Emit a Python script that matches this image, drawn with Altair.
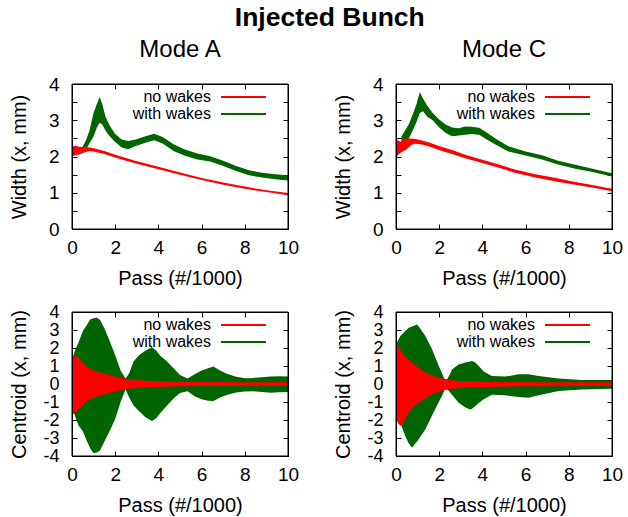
import altair as alt
import pandas as pd

FONT = "Liberation Sans"
RED = "#ff0000"
GREEN = "#006400"

TITLE = "Injected Bunch"
PANEL_TITLES = ["Mode A", "Mode C"]
X_TITLE = "Pass (#/1000)"
Y_TITLE_W = "Width (x, mm)"
Y_TITLE_C = "Centroid (x, mm)"
LEGEND_LABELS = ["no wakes", "with wakes"]

X_DOMAIN = [0, 10]
W_DOMAIN = [0, 4]
C_DOMAIN = [-4, 4]
X_LABELS = [0, 2, 4, 6, 8, 10]
W_LABELS = [0, 1, 2, 3, 4]
W_TICKS = [0, 0.5, 1, 1.5, 2, 2.5, 3, 3.5, 4]
C_LABELS = [-4, -3, -2, -1, 0, 1, 2, 3, 4]

# ---- Mode A, width ----
A_W_RED_X = [0, 0.1, 0.2, 0.3, 0.45, 0.6, 0.8, 1.0, 1.5, 2.0, 2.5, 3.0, 4.0, 5.0, 6.0, 7.0, 8.0, 9.0, 10.0]
A_W_RED_LO = [2.00, 2.02, 2.05, 2.05, 2.08, 2.12, 2.15, 2.14, 2.07, 1.97, 1.88, 1.80, 1.65, 1.50, 1.35, 1.22, 1.11, 1.02, 0.93]
A_W_RED_HI = [2.30, 2.28, 2.30, 2.27, 2.27, 2.26, 2.25, 2.23, 2.15, 2.05, 1.96, 1.87, 1.72, 1.56, 1.41, 1.28, 1.17, 1.07, 0.99]

A_W_GRN_X = [0.50, 0.65, 0.80, 1.00, 1.15, 1.28, 1.40, 1.55, 1.75, 2.00, 2.30, 2.60, 2.95, 3.40, 3.80, 4.20, 4.70, 5.20, 5.80, 6.40, 7.00, 7.60, 8.20, 8.80, 9.40, 10.0]
A_W_GRN_LO = [2.12, 2.20, 2.35, 2.55, 2.80, 2.93, 2.88, 2.72, 2.55, 2.40, 2.25, 2.20, 2.29, 2.38, 2.45, 2.36, 2.15, 2.03, 1.92, 1.86, 1.74, 1.60, 1.48, 1.42, 1.37, 1.34]
A_W_GRN_HI = [2.28, 2.45, 2.70, 3.20, 3.45, 3.64, 3.45, 3.10, 2.85, 2.62, 2.47, 2.43, 2.47, 2.56, 2.63, 2.54, 2.34, 2.20, 2.08, 2.01, 1.88, 1.74, 1.62, 1.55, 1.51, 1.48]

# ---- Mode C, width ----
C_W_RED_X = [0, 0.1, 0.2, 0.35, 0.5, 0.7, 0.9, 1.2, 1.5, 1.8, 2.2, 2.6, 3.2, 4.0, 4.8, 5.5, 6.4, 7.4, 8.3, 9.2, 10]
C_W_RED_LO = [1.95, 2.05, 2.10, 2.15, 2.20, 2.32, 2.35, 2.33, 2.28, 2.22, 2.14, 2.07, 1.95, 1.82, 1.68, 1.55, 1.43, 1.31, 1.22, 1.13, 1.04]
C_W_RED_HI = [2.45, 2.45, 2.40, 2.48, 2.50, 2.50, 2.48, 2.44, 2.39, 2.33, 2.25, 2.18, 2.05, 1.91, 1.77, 1.64, 1.52, 1.41, 1.30, 1.20, 1.11]

C_W_GRN_X = [0.25, 0.4, 0.6, 0.8, 0.95, 1.1, 1.25, 1.45, 1.7, 2.0, 2.3, 2.6, 2.9, 3.2, 3.5, 3.85, 4.2, 4.6, 5.2, 6.0, 6.8, 7.5, 8.3, 9.1, 10]
C_W_GRN_LO = [2.35, 2.45, 2.50, 2.75, 2.95, 3.20, 3.25, 3.10, 3.00, 2.80, 2.65, 2.56, 2.58, 2.60, 2.62, 2.60, 2.47, 2.33, 2.14, 2.03, 1.91, 1.78, 1.66, 1.57, 1.45]
C_W_GRN_HI = [2.55, 2.70, 2.90, 3.20, 3.45, 3.78, 3.60, 3.40, 3.20, 3.02, 2.88, 2.80, 2.78, 2.83, 2.82, 2.79, 2.66, 2.50, 2.28, 2.14, 2.03, 1.88, 1.77, 1.66, 1.54]

# ---- Mode A, centroid (oscillation envelopes) ----
A_C_GRN_X = [0.0, 0.15, 0.3, 0.5, 0.7, 0.85, 1.0, 1.15, 1.3, 1.5, 1.75, 2.0, 2.25, 2.48, 2.65, 2.85, 3.1, 3.4, 3.7, 3.9, 4.1, 4.4, 4.7, 5.0, 5.35, 5.7, 6.0, 6.3, 6.55, 6.85, 7.2, 7.6, 8.0, 8.4, 8.8, 9.2, 9.6, 10.0]
A_C_GRN_HI = [1.3, 1.9, 2.3, 2.93, 3.3, 3.6, 3.65, 3.7, 3.55, 3.1, 2.37, 1.6, 0.75, 0.3, 0.6, 1.25, 1.6, 1.85, 2.05, 1.85, 1.55, 1.25, 0.88, 0.5, 0.3, 0.55, 0.75, 0.88, 0.97, 0.75, 0.55, 0.4, 0.32, 0.34, 0.38, 0.42, 0.43, 0.42]
A_C_GRN_LO = [-1.3, -1.8, -2.3, -2.62, -3.2, -3.6, -3.85, -3.8, -3.7, -3.2, -2.6, -1.95, -1.0, -0.3, -0.75, -1.2, -1.5, -1.85, -2.05, -1.9, -1.6, -1.2, -0.8, -0.5, -0.4, -0.7, -0.85, -0.93, -0.95, -0.75, -0.6, -0.47, -0.42, -0.4, -0.45, -0.48, -0.46, -0.44]

A_C_RED_X = [0, 0.1, 0.2, 0.3, 0.45, 0.65, 0.9, 1.2, 1.5, 1.9, 2.5, 3.4, 4.4, 6.0, 8.0, 10]
A_C_RED_HI = [1.6, 1.6, 1.5, 1.5, 1.25, 0.98, 0.8, 0.66, 0.58, 0.45, 0.28, 0.18, 0.14, 0.11, 0.10, 0.10]
A_C_RED_LO = [-1.65, -1.65, -1.5, -1.45, -1.25, -0.98, -0.8, -0.66, -0.58, -0.45, -0.28, -0.18, -0.14, -0.11, -0.10, -0.10]

# ---- Mode C, centroid ----
C_C_GRN_X = [0.0, 0.2, 0.43, 0.59, 0.74, 0.97, 1.05, 1.36, 1.67, 1.98, 2.13, 2.3, 2.52, 2.59, 2.9, 3.21, 3.44, 3.52, 3.67, 3.83, 4.06, 4.44, 5.06, 5.68, 6.14, 6.6, 7.53, 8.6, 10]
C_C_GRN_HI = [2.2, 2.67, 2.95, 3.13, 3.2, 3.31, 3.2, 2.67, 1.93, 1.0, 0.6, 0.11, 0.6, 0.81, 1.09, 1.19, 1.25, 1.28, 1.2, 1.0, 0.7, 0.44, 0.41, 0.54, 0.54, 0.45, 0.3, 0.22, 0.22]
C_C_GRN_LO = [-1.9, -2.15, -2.9, -3.3, -3.54, -3.2, -3.07, -2.52, -1.75, -1.0, -0.67, -0.2, -0.48, -0.6, -1.04, -1.3, -1.41, -1.38, -1.22, -1.05, -0.85, -0.6, -0.63, -0.72, -0.76, -0.63, -0.39, -0.3, -0.26]

C_C_RED_X = [0, 0.1, 0.2, 0.28, 0.45, 0.59, 0.74, 1.05, 1.36, 1.67, 1.98, 2.28, 2.9, 3.21, 4.5, 6.5, 10]
C_C_RED_HI = [2.3, 2.1, 1.95, 1.74, 1.5, 1.35, 1.19, 0.9, 0.63, 0.48, 0.35, 0.28, 0.17, 0.15, 0.11, 0.1, 0.1]
C_C_RED_LO = [-1.9, -2.2, -2.3, -2.3, -1.9, -1.59, -1.35, -1.04, -0.8, -0.57, -0.45, -0.33, -0.22, -0.2, -0.15, -0.12, -0.1]

PW = 216
H_TOP = 145
H_BOT = 144
TICK = 5


def band(x, lo, hi):
    return pd.DataFrame({"x": x, "lo": lo, "hi": hi})


def tick_axis(orient, vals):
    return alt.Axis(orient=orient, values=vals, offset=-TICK, tickSize=TICK, ticks=True,
                    labels=False, domain=False, grid=False, title=None,
                    tickColor="black", tickWidth=1)


def grid_frame_axis(orient, vals):
    # grid lines placed only at the two ends of the domain draw the plot box
    return alt.Axis(orient=orient, values=vals, ticks=False, labels=False, domain=False,
                    grid=True, gridColor="black", gridWidth=1, gridOpacity=1, title=None,
                    zindex=2)


def panel(red_df, green_df, h, ydom, ytick_vals, ylabel_vals, ytitle, ylab_size, title=None):
    xs = alt.Scale(domain=X_DOMAIN, nice=False, zero=False)
    ys = alt.Scale(domain=ydom, nice=False, zero=False)
    x_main = alt.Axis(orient="bottom", values=X_LABELS, ticks=False, domain=False,
                      grid=False, labelFlush=False, labelOverlap=False,
                      labelFontSize=19, labelPadding=9, labelFont=FONT, labelColor="black",
                      title=X_TITLE, titleFont=FONT, titleFontSize=20, titleFontWeight="normal",
                      titleX=PW / 2, titleY=49, titleBaseline="middle", titleAlign="center",
                      titleColor="black")
    y_main = alt.Axis(orient="left", values=ylabel_vals, ticks=False, domain=False,
                      grid=False, labelFlush=False, labelOverlap=False,
                      labelFontSize=ylab_size, labelPadding=13, labelFont=FONT, labelColor="black",
                      labelExpr="'' + datum.value",
                      title=ytitle, titleFont=FONT, titleFontSize=20, titleFontWeight="normal",
                      titleX=-53, titleY=h / 2, titleAngle=270, titleBaseline="middle",
                      titleAlign="center", titleColor="black")
    g = alt.Chart(green_df).mark_area(color=GREEN).encode(
        x=alt.X("x:Q", scale=xs, axis=x_main),
        y=alt.Y("lo:Q", scale=ys, axis=y_main),
        y2="hi:Q",
    )
    r = alt.Chart(red_df).mark_area(color=RED).encode(
        x=alt.X("x:Q", scale=xs, axis=tick_axis("bottom", X_LABELS)),
        y=alt.Y("lo:Q", scale=ys, axis=tick_axis("left", ytick_vals)),
        y2="hi:Q",
    )
    t = alt.Chart(red_df).mark_point(opacity=0).encode(
        x=alt.X("x:Q", scale=xs, axis=tick_axis("top", X_LABELS)),
        y=alt.Y("lo:Q", scale=ys, axis=tick_axis("right", ytick_vals)),
    )
    fg = alt.Chart(red_df).mark_point(opacity=0).encode(
        x=alt.X("x:Q", scale=xs, axis=grid_frame_axis("top", X_DOMAIN)),
        y=alt.Y("lo:Q", scale=ys, axis=grid_frame_axis("right", ydom)),
    )
    frame_df = pd.DataFrame({"x0": [X_DOMAIN[0]], "x1": [X_DOMAIN[1]],
                             "y0": [ydom[0]], "y1": [ydom[1]]})
    f = alt.Chart(frame_df).mark_rect(filled=False, stroke="#000000", strokeWidth=1).encode(
        x=alt.X("x0:Q", scale=xs, axis=None), x2="x1:Q",
        y=alt.Y("y0:Q", scale=ys, axis=None), y2="y1:Q",
    )
    legend = []
    for lab, col, ly in [(LEGEND_LABELS[0], RED, 13), (LEGEND_LABELS[1], GREEN, 30)]:
        ldf = pd.DataFrame({"label": [lab]})
        legend.append(alt.Chart(ldf).mark_text(align="right", baseline="middle", fontSize=16,
                                               font=FONT, color="black").encode(
            text="label:N", x=alt.value(139), y=alt.value(ly)))
        legend.append(alt.Chart(ldf).mark_rule(color=col, strokeWidth=2).encode(
            x=alt.value(149), x2=alt.value(194), y=alt.value(ly)))
    ch = alt.layer(g, r, t, fg, f, *legend).resolve_axis(
        x="independent", y="independent").properties(width=PW, height=h)
    if title:
        ch = ch.properties(title=alt.TitleParams(title, fontSize=24, font=FONT, fontWeight="normal",
                                                 anchor="middle", offset=13, color="black",
                                                 frame="group"))
    return ch


pAw = panel(band(A_W_RED_X, A_W_RED_LO, A_W_RED_HI), band(A_W_GRN_X, A_W_GRN_LO, A_W_GRN_HI),
            H_TOP, W_DOMAIN, W_TICKS, W_LABELS, Y_TITLE_W, 19, PANEL_TITLES[0])
pCw = panel(band(C_W_RED_X, C_W_RED_LO, C_W_RED_HI), band(C_W_GRN_X, C_W_GRN_LO, C_W_GRN_HI),
            H_TOP, W_DOMAIN, W_TICKS, W_LABELS, Y_TITLE_W, 19, PANEL_TITLES[1])
pAc = panel(band(A_C_RED_X, A_C_RED_LO, A_C_RED_HI), band(A_C_GRN_X, A_C_GRN_LO, A_C_GRN_HI),
            H_BOT, C_DOMAIN, C_LABELS, C_LABELS, Y_TITLE_C, 18)
pCc = panel(band(C_C_RED_X, C_C_RED_LO, C_C_RED_HI), band(C_C_GRN_X, C_C_GRN_LO, C_C_GRN_HI),
            H_BOT, C_DOMAIN, C_LABELS, C_LABELS, Y_TITLE_C, 18)

chart = alt.concat(
    pAw, pCw, pAc, pCc, columns=2,
    spacing={"row": 83, "column": 108}, bounds="flush",
    padding={"left": 8, "top": 5, "right": 0, "bottom": 0},
    title=alt.TitleParams(TITLE, fontSize=26.5, fontWeight="bold", font=FONT, anchor="middle",
                          color="black", dx=14, offset=6),
).configure(font=FONT, background="white").configure_view(stroke="black", strokeWidth=1)

chart.save("out.html", embed_options={"renderer": "svg", "actions": False})
